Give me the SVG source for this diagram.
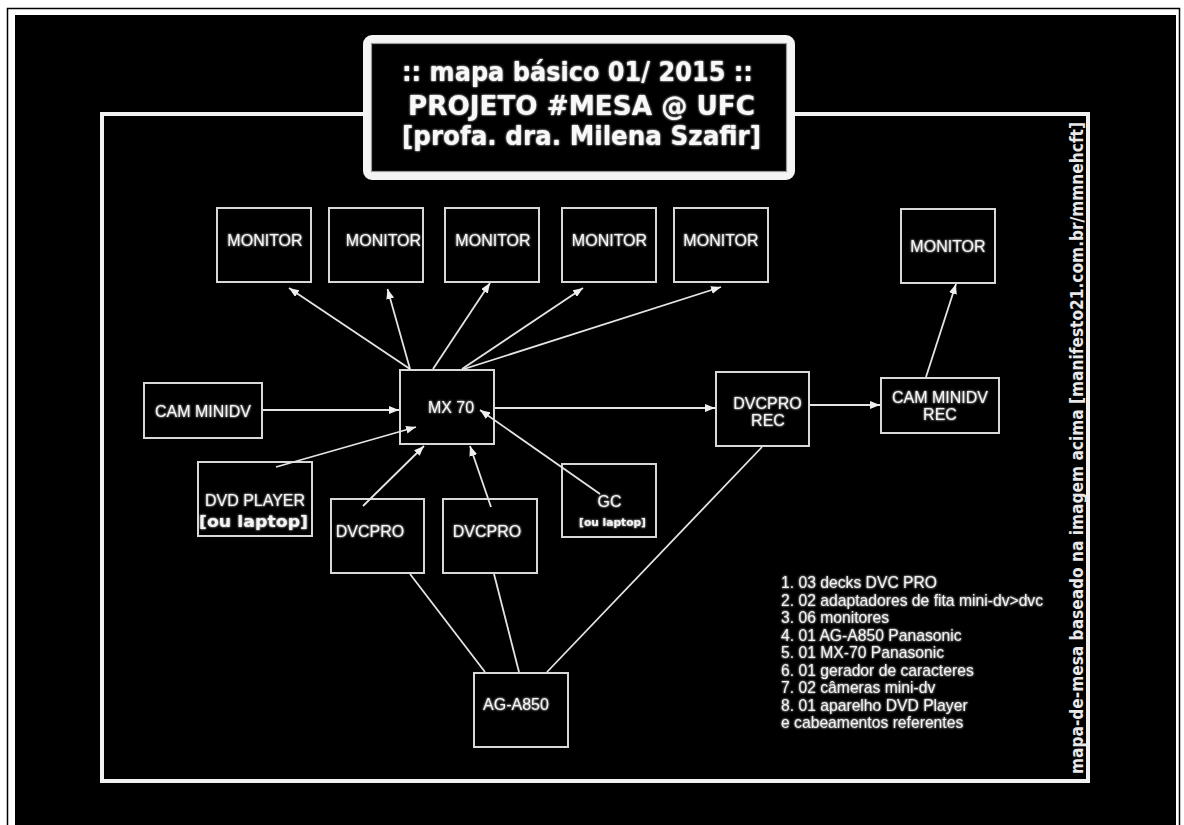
<svg xmlns="http://www.w3.org/2000/svg" width="1184" height="825" viewBox="0 0 1184 825">
<defs>
<style>
.box{fill:#000;stroke:#d8d8d8;stroke-width:2}
.lbl{font-family:"Liberation Sans",Arial,sans-serif;font-size:16px;fill:#f4f4f4;text-anchor:middle}
.edge{stroke:#e4e4e4;stroke-width:1.8;fill:none}
.arr{marker-end:url(#ah)}
.leg{font-family:"Liberation Sans",Arial,sans-serif;font-size:15.7px;fill:#f0f0f0}
.title{font-family:"DejaVu Sans",sans-serif;font-weight:bold;font-size:26px;fill:#f8f8f8}
.side{font-family:"DejaVu Sans Condensed","DejaVu Sans",sans-serif;font-weight:bold;font-size:18px;fill:#e8e8e8}
.ou{font-family:"DejaVu Sans",sans-serif;font-weight:bold;fill:#f4f4f4}
</style>
<marker id="ah" viewBox="0 0 10 8" refX="10" refY="4" markerWidth="10" markerHeight="8" markerUnits="userSpaceOnUse" orient="auto">
<path d="M0,0 L10,4 L0,8 z" fill="#f0f0f0"/>
</marker>
<filter id="glow" x="-10%" y="-40%" width="120%" height="180%">
<feGaussianBlur in="SourceGraphic" stdDeviation="0.9" result="b"/>
<feMerge><feMergeNode in="b"/><feMergeNode in="SourceGraphic"/></feMerge>
</filter>
</defs>
<rect x="0" y="0" width="1184" height="825" fill="#fff"/>
<rect x="7.5" y="8.5" width="1172" height="830" fill="none" stroke="#000" stroke-width="1.5"/>
<rect x="15" y="15" width="1161" height="810" fill="#000"/>
<g id="frame">
<rect x="102" y="114" width="986" height="667" fill="none" stroke="#f2f2f2" stroke-width="4"/>
</g>
<g id="title">
<rect x="367" y="39" width="424" height="137" rx="5" fill="#000" stroke="#f4f4f4" stroke-width="8"/>
<rect x="371.5" y="43.5" width="415" height="128" fill="none" stroke="#9a9a9a" stroke-width="1.2"/>
<g filter="url(#glow)">
<text class="title" x="402" y="81" font-size="25" textLength="351" lengthAdjust="spacingAndGlyphs">:: mapa básico 01/ 2015 ::</text>
<text class="title" x="408" y="115" font-size="27" textLength="347" lengthAdjust="spacingAndGlyphs">PROJETO #MESA @ UFC</text>
<text class="title" x="402" y="145" font-size="25" textLength="359" lengthAdjust="spacingAndGlyphs">[profa. dra. Milena Szafir]</text>
</g>
</g>
<g id="monitor1"><rect class="box" x="217" y="208" width="94" height="74"/><text class="lbl" x="265" y="246" filter="url(#glow)">MONITOR</text></g>
<g id="monitor2"><rect class="box" x="329" y="208" width="94" height="74"/><text class="lbl" x="383.5" y="246" filter="url(#glow)">MONITOR</text></g>
<g id="monitor3"><rect class="box" x="445" y="208" width="94" height="74"/><text class="lbl" x="493" y="246" filter="url(#glow)">MONITOR</text></g>
<g id="monitor4"><rect class="box" x="562" y="208" width="94" height="74"/><text class="lbl" x="609.5" y="246" filter="url(#glow)">MONITOR</text></g>
<g id="monitor5"><rect class="box" x="674" y="208" width="94" height="74"/><text class="lbl" x="721" y="246" filter="url(#glow)">MONITOR</text></g>
<g id="monitor6"><rect class="box" x="901" y="209" width="94" height="74"/><text class="lbl" x="948" y="252" filter="url(#glow)">MONITOR</text></g>
<g id="cam-minidv"><rect class="box" x="144" y="383" width="118" height="55"/><text class="lbl" x="203" y="416.5" filter="url(#glow)">CAM MINIDV</text></g>
<g id="mx70"><rect class="box" x="400" y="370" width="94" height="74"/><text class="lbl" x="451" y="413" filter="url(#glow)">MX 70</text></g>
<g id="dvd-player"><rect class="box" x="198" y="462" width="114" height="74"/><text class="lbl" x="255" y="505.5" filter="url(#glow)">DVD PLAYER</text><text class="ou" x="199" y="527" font-size="16" textLength="109" lengthAdjust="spacingAndGlyphs" filter="url(#glow)">[ou laptop]</text></g>
<g id="dvcpro1"><rect class="box" x="331" y="499" width="93" height="74"/><text class="lbl" x="370" y="536.5" filter="url(#glow)">DVCPRO</text></g>
<g id="dvcpro2"><rect class="box" x="443" y="499" width="94" height="74"/><text class="lbl" x="487" y="536.5" filter="url(#glow)">DVCPRO</text></g>
<g id="gc"><rect class="box" x="562" y="464" width="94" height="73"/><text class="lbl" x="609.5" y="506.5" filter="url(#glow)">GC</text><text class="ou" x="579" y="526" font-size="10" textLength="67" lengthAdjust="spacingAndGlyphs" filter="url(#glow)">[ou laptop]</text></g>
<g id="dvcpro-rec"><rect class="box" x="716" y="372" width="93" height="74"/><text class="lbl" x="767.5" y="408.5" filter="url(#glow)">DVCPRO</text><text class="lbl" x="768" y="425.5" filter="url(#glow)">REC</text></g>
<g id="cam-minidv-rec"><rect class="box" x="881" y="378" width="118" height="55"/><text class="lbl" x="940" y="402.5" filter="url(#glow)">CAM MINIDV</text><text class="lbl" x="940" y="420" filter="url(#glow)">REC</text></g>
<g id="ag-a850"><rect class="box" x="474" y="673" width="94" height="74"/><text class="lbl" x="516" y="710" filter="url(#glow)">AG-A850</text></g>
<g id="connectors">
<line class="edge arr" x1="410" y1="369" x2="289" y2="288"/>
<line class="edge arr" x1="410" y1="369" x2="387.5" y2="289"/>
<line class="edge arr" x1="433" y1="369" x2="490" y2="283"/>
<line class="edge arr" x1="462" y1="369" x2="583" y2="288"/>
<line class="edge arr" x1="464" y1="369" x2="721" y2="287"/>
<line class="edge arr" x1="263" y1="410" x2="399" y2="410"/>
<line class="edge arr" x1="276" y1="467" x2="416" y2="427"/>
<line class="edge arr" x1="363" y1="506" x2="424" y2="446"/>
<line class="edge arr" x1="491" y1="507" x2="470" y2="446"/>
<line class="edge arr" x1="600" y1="494" x2="480" y2="410"/>
<line class="edge arr" x1="495" y1="408" x2="715" y2="408"/>
<line class="edge arr" x1="810" y1="405" x2="880" y2="405"/>
<line class="edge arr" x1="926" y1="377" x2="956" y2="284"/>
<line class="edge" x1="410" y1="574" x2="485" y2="672"/>
<line class="edge" x1="494" y1="574" x2="519" y2="672"/>
<line class="edge" x1="762" y1="447" x2="547" y2="672"/>
</g>
<g id="legend" filter="url(#glow)">
<text class="leg" x="781" y="588">1. 03 decks DVC PRO</text>
<text class="leg" x="781" y="605.5">2. 02 adaptadores de fita mini-dv&gt;dvc</text>
<text class="leg" x="781" y="623">3. 06 monitores</text>
<text class="leg" x="781" y="640.5">4. 01 AG-A850 Panasonic</text>
<text class="leg" x="781" y="658">5. 01 MX-70 Panasonic</text>
<text class="leg" x="781" y="675.5">6. 01 gerador de caracteres</text>
<text class="leg" x="781" y="693">7. 02 câmeras mini-dv</text>
<text class="leg" x="781" y="710.5">8. 01 aparelho DVD Player</text>
<text class="leg" x="781" y="728">e cabeamentos referentes</text>
</g>
<g id="side-note">
<text class="side" transform="translate(1083,774) rotate(-90)" x="0" y="0" textLength="652" lengthAdjust="spacingAndGlyphs">mapa-de-mesa baseado na imagem acima [manifesto21.com.br/mmnehcft]</text>
</g>
</svg>
